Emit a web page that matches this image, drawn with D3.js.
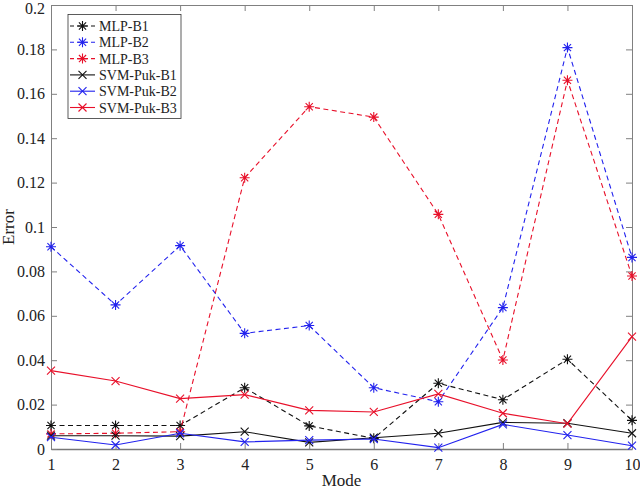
<!DOCTYPE html>
<html><head><meta charset="utf-8">
<script src="https://cdn.jsdelivr.net/npm/d3@7/dist/d3.min.js"></script>
<style>body{margin:0;background:#fff}svg{display:block}text{font-family:"Liberation Serif","Times New Roman","DejaVu Serif",serif}</style>
</head><body>
<svg id="c" width="640" height="490"></svg>
<script>
const modes = [1,2,3,4,5,6,7,8,9,10];
const yTicks = [0,0.02,0.04,0.06,0.08,0.1,0.12,0.14,0.16,0.18,0.2];
const seriesNames = ["MLP-B1","MLP-B2","MLP-B3","SVM-Puk-B1","SVM-Puk-B2","SVM-Puk-B3"];
const mlpB1 = [0.0106,0.0106,0.0106,0.0276,0.0104,0.0048,0.0296,0.0222,0.0404,0.0129];
const mlpB2 = [0.0911,0.0649,0.0916,0.0521,0.0556,0.0276,0.0213,0.0637,0.1808,0.0863];
const mlpB3 = [0.0068,0.0071,0.0078,0.1222,0.1542,0.1495,0.1057,0.0401,0.1661,0.0779];
const svmB1 = [0.0060,0.0060,0.0058,0.0078,0.0030,0.0051,0.0071,0.0120,0.0116,0.0071];
const svmB2 = [0.0053,0.0018,0.0071,0.0032,0.0040,0.0045,0.0006,0.0111,0.0063,0.0015];
const svmB3 = [0.0353,0.0306,0.0227,0.0245,0.0174,0.0167,0.0248,0.0161,0.0114,0.0506];

const colors = ["#111111","#2222ee","#e8102a","#111111","#2222ee","#e8102a"];
const data = [mlpB1,mlpB2,mlpB3,svmB1,svmB2,svmB3];
const dashed = [true,true,true,false,false,false];
const FONT = '"Liberation Serif","Times New Roman","DejaVu Serif",serif';

const svg = d3.select("#c");
const L=51,R=632,T=5,B=449;
const x = d3.scaleLinear().domain([1,10]).range([L,R]);
const y = d3.scaleLinear().domain([0,0.2]).range([B,T]);
const axisCol = "#808080";

const gx = svg.append("g").attr("transform",`translate(0,${B})`)
  .call(d3.axisBottom(x).tickValues(modes).tickFormat(d3.format("d")).tickSizeInner(-6).tickSizeOuter(0).tickPadding(10));
const gxt = svg.append("g").attr("transform",`translate(0,${T})`)
  .call(d3.axisTop(x).tickValues(modes).tickFormat("").tickSizeInner(-6).tickSizeOuter(0));
const gy = svg.append("g").attr("transform",`translate(${L},0)`)
  .call(d3.axisLeft(y).tickValues(yTicks).tickFormat(d=>d===0?"0":String(+d.toFixed(2))).tickSizeInner(-6).tickSizeOuter(0).tickPadding(6));
const gyr = svg.append("g").attr("transform",`translate(${R},0)`)
  .call(d3.axisRight(y).tickValues(yTicks).tickFormat("").tickSizeInner(-6).tickSizeOuter(0));
[gx,gxt,gy,gyr].forEach(g=>{
  g.attr("font-family",FONT);
  g.selectAll("path.domain").attr("stroke",axisCol).attr("stroke-width",1);
  g.selectAll(".tick line").attr("stroke",axisCol);
  g.selectAll(".tick text").attr("fill","#222").style("font-size","16px").style("font-family",FONT);
});
gx.select("path.domain").attr("stroke","#777").attr("stroke-width",1.6);
// keep the top label inside the picture
gy.selectAll(".tick text").filter(d=>d===0.2).attr("dy","0.5em");

svg.append("text").attr("x",(L+R)/2).attr("y",486).attr("text-anchor","middle")
  .style("font-size","17px").style("font-family",FONT).attr("fill","#222").text("Mode");
svg.append("text").attr("transform",`translate(14,${(T+B)/2}) rotate(-90)`).attr("text-anchor","middle")
  .style("font-size","17px").style("font-family",FONT).attr("fill","#222").text("Error");

function star(g,cx,cy,col,s){
  const p = d3.path();
  p.moveTo(cx-s,cy);p.lineTo(cx+s,cy);
  p.moveTo(cx,cy-s);p.lineTo(cx,cy+s);
  const d=s*0.72;
  p.moveTo(cx-d,cy-d);p.lineTo(cx+d,cy+d);
  p.moveTo(cx-d,cy+d);p.lineTo(cx+d,cy-d);
  g.append("path").attr("d",p.toString()).attr("stroke",col).attr("stroke-width",1.1).attr("fill","none");
}
function cross(g,cx,cy,col,s){
  const p = d3.path();
  p.moveTo(cx-s,cy-s);p.lineTo(cx+s,cy+s);
  p.moveTo(cx-s,cy+s);p.lineTo(cx+s,cy-s);
  g.append("path").attr("d",p.toString()).attr("stroke",col).attr("stroke-width",1.1).attr("fill","none");
}

const line = d3.line().x((d,i)=>x(modes[i])).y(d=>y(d));
const plot = svg.append("g");
data.forEach((vals,k)=>{
  plot.append("path").datum(vals).attr("d",line).attr("fill","none")
    .attr("stroke",colors[k]).attr("stroke-width",1.1)
    .attr("stroke-dasharray",dashed[k]?"5,3.5":null);
  vals.forEach((v,i)=>{
    if(dashed[k]) star(plot,x(modes[i]),y(v),colors[k],5);
    else cross(plot,x(modes[i]),y(v),colors[k],4);
  });
});

const lg = svg.append("g");
lg.append("rect").attr("x",68).attr("y",14.5).attr("width",113).attr("height",104)
  .attr("fill","#fff").attr("stroke","#333").attr("stroke-width",0.8);
seriesNames.forEach((n,k)=>{
  const yy = 26 + k*16.3;
  lg.append("line").attr("x1",70).attr("x2",95).attr("y1",yy).attr("y2",yy)
    .attr("stroke",colors[k]).attr("stroke-width",1.1).attr("stroke-dasharray",dashed[k]?"4,3":null);
  if(dashed[k]) star(lg,82.5,yy,colors[k],5); else cross(lg,82.5,yy,colors[k],4);
  lg.append("text").attr("x",99).attr("y",yy+5).style("font-size","14px").style("font-family",FONT).attr("fill","#222").text(n);
});
</script>
</body></html>
